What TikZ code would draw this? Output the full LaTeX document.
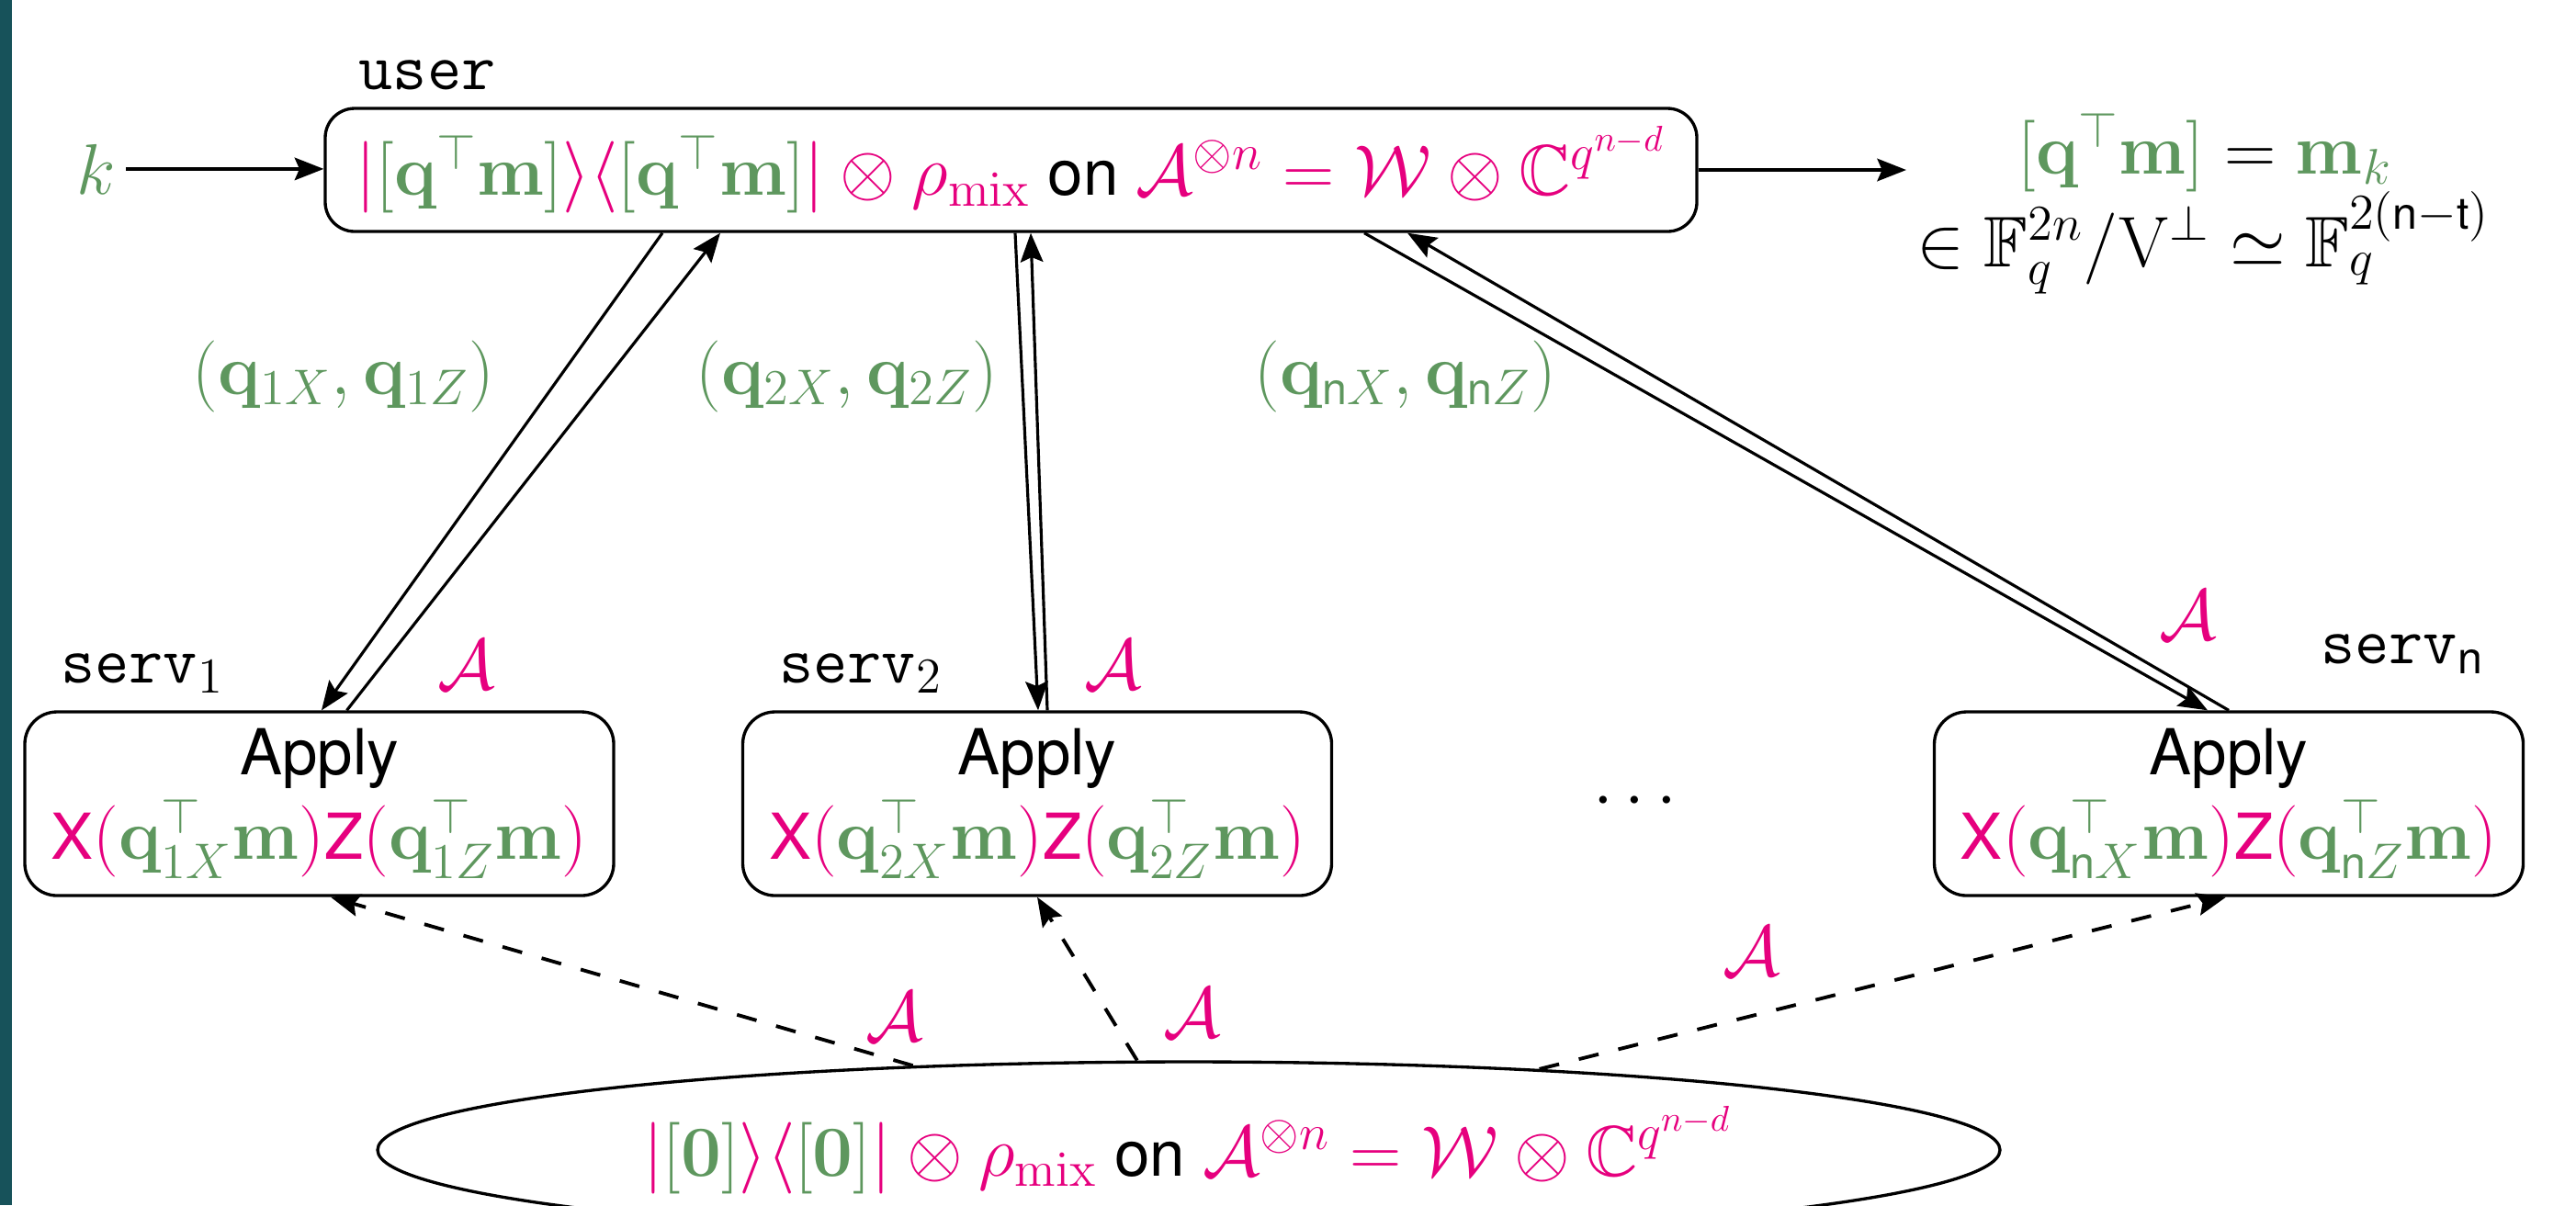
\RequirePackage{fix-cm}
\documentclass[tikz,border=0pt]{standalone}
\usepackage{amsmath,amssymb}
\usepackage[no-math]{fontspec}
\setmainfont{TeX Gyre Heros}[Scale=0.885]
\setsansfont{TeX Gyre Heros}[Scale=0.885]
\setmonofont{Latin Modern Mono}[Scale=0.925]
\usetikzlibrary{arrows.meta,shapes.geometric,calc}
\definecolor{grn}{RGB}{94,151,94}
\definecolor{mag}{RGB}{230,0,126}
\definecolor{tealbar}{RGB}{23,82,90}
\newcommand{\cgreen}[1]{\textcolor{grn}{#1}}
\newcommand{\cblack}[1]{\textcolor{black}{#1}}
\begin{document}
\begin{tikzpicture}[
  every node/.style={font=\fontsize{22.2}{26.1}\selectfont},
  userbox/.style={draw, line width=0.95pt, rounded corners=0.32cm, minimum width=14.93cm, minimum height=1.34cm, inner sep=0pt, text=mag},
  servbox/.style={draw, line width=0.95pt, rounded corners=0.35cm, minimum width=6.41cm, minimum height=2.0cm, inner sep=0pt, align=center, text=mag},
  ellbox/.style={draw, ellipse, line width=0.95pt, minimum width=17.66cm, minimum height=1.92cm, inner sep=0pt},
  conn/.style={line width=0.9pt, -{Stealth[length=9pt,width=7pt,inset=1.5pt]}},
  dconn/.style={line width=1.1pt, dash pattern=on 6.3pt off 6.3pt, -{Stealth[length=9pt,width=7pt,inset=1.5pt]}},
  albl/.style={text=mag},
  qlbl/.style={text=grn, anchor=base},
  slbl/.style={anchor=base},
]
\useasboundingbox (0,0) rectangle (28.04,-13.12);
\clip (0,0) rectangle (28.04,-13.12);
\fill[tealbar] (0,0) rectangle (0.13,-13.12);

% user
\node[userbox] (user) at (11.005,-1.85) {$|\cgreen{[\mathbf{q}^{\top}\mathbf{m}]}\rangle\langle\cgreen{[\mathbf{q}^{\top}\mathbf{m}]}|\otimes\rho_{\mathrm{mix}}$ \cblack{on} $\mathcal{A}^{\otimes n}=\mathcal{W}\otimes\mathbb{C}^{q^{n-d}}$};
\node[slbl] (userlbl) at (4.65,-0.97) {\texttt{user}};
\node[anchor=base, text=grn] (k) at (1.05,-2.11) {$k$};
\node[anchor=base] (res1) at (24.0,-1.89) {$\cgreen{[\mathbf{q}^{\top}\mathbf{m}]}=\cgreen{\mathbf{m}_k}$};
\node[anchor=base] (res2) at (23.98,-2.90) {$\in\mathbb{F}_q^{2n}/\mathrm{V}^{\perp}\simeq\mathbb{F}_q^{2(\textsf{n}-\textsf{t})}$};

% servers
\node[servbox] (serv1) at (3.475,-8.75) {\cblack{Apply}\\$\textsf{X}(\cgreen{\mathbf{q}_{1X}^{\top}\mathbf{m}})\textsf{Z}(\cgreen{\mathbf{q}_{1Z}^{\top}\mathbf{m}})$};
\node[servbox] (serv2) at (11.29,-8.75) {\cblack{Apply}\\$\textsf{X}(\cgreen{\mathbf{q}_{2X}^{\top}\mathbf{m}})\textsf{Z}(\cgreen{\mathbf{q}_{2Z}^{\top}\mathbf{m}})$};
\node[servbox] (servn) at (24.26,-8.75) {\cblack{Apply}\\$\textsf{X}(\cgreen{\mathbf{q}_{\textsf{n}X}^{\top}\mathbf{m}})\textsf{Z}(\cgreen{\mathbf{q}_{\textsf{n}Z}^{\top}\mathbf{m}})$};
\node[slbl] (s1lbl) at (1.55,-7.43) {\texttt{serv}$_1$};
\node[slbl] (s2lbl) at (9.37,-7.43) {\texttt{serv}$_2$};
\node[slbl] (snlbl) at (26.15,-7.22) {\texttt{serv}$_{\textsf{n}}$};
\node (dots) at (17.86,-8.73) {$\cdots$};

% ellipse
\node[ellbox] (ell) at (12.94,-12.52) {};
\node[anchor=base, text=mag] (elltext) at (12.93,-12.80) {$|\cgreen{[\mathbf{0}]}\rangle\langle\cgreen{[\mathbf{0}]}|\otimes\rho_{\mathrm{mix}}$ \cblack{on} $\mathcal{A}^{\otimes n}=\mathcal{W}\otimes\mathbb{C}^{q^{n-d}}$};

% labels
\node[qlbl] (l1) at (3.74,-4.29) {$(\mathbf{q}_{1X},\mathbf{q}_{1Z})$};
\node[qlbl] (l2) at (9.22,-4.29) {$(\mathbf{q}_{2X},\mathbf{q}_{2Z})$};
\node[qlbl] (ln) at (15.30,-4.29) {$(\mathbf{q}_{\textsf{n}X},\mathbf{q}_{\textsf{n}Z})$};
\node[albl] (a1) at (5.08,-7.24) {$\mathcal{A}$};
\node[albl] (a2) at (12.12,-7.24) {$\mathcal{A}$};
\node[albl] (an) at (23.82,-6.70) {$\mathcal{A}$};
\node[albl] (b1) at (9.74,-11.07) {$\mathcal{A}$};
\node[albl] (b2) at (12.98,-11.03) {$\mathcal{A}$};
\node[albl] (bn) at (19.07,-10.36) {$\mathcal{A}$};

% connectors
\draw[conn] (k.east) -- (k.east -| user.west);
\draw[conn] (user.east) -- (user.east -| res2.west);
\draw[conn] ($(user.south)+(-3.795,0)$) -- ($(serv1.north)+(0.025,0)$);
\draw[conn] ($(serv1.north)+(0.30,0)$) -- ($(user.south)+(-3.165,0)$);
\draw[conn] ($(user.south)+(0.045,0)$) -- ($(serv2.north)+(0.01,0)$);
\draw[conn] ($(serv2.north)+(0.11,0)$) -- ($(user.south)+(0.215,0)$);
\draw[conn] ($(user.south)+(3.845,0)$) -- ($(servn.north)+(-0.23,0)$);
\draw[conn] (servn.north) -- ($(user.south)+(4.315,0)$);
\draw[dconn] (ell.163.7) -- ($(serv1.south)+(0.125,0)$);
\draw[dconn] (ell.120.7) -- (serv2.south);
\draw[dconn] (ell.13.9) -- ($(servn.south)+(-0.03,0)$);
\end{tikzpicture}
\end{document}
